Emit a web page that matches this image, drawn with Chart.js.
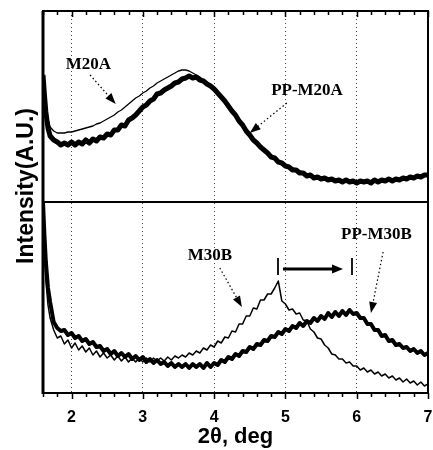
<!DOCTYPE html>
<html>
<head>
<meta charset="utf-8">
<script src="https://cdn.jsdelivr.net/npm/chart.js@4.4.1/dist/chart.umd.min.js"></script>
<style>
  html, body { margin: 0; padding: 0; background: #fff; }
  #wrap { width: 433px; height: 450px; }
</style>
</head>
<body>
<div id="wrap"><canvas id="grafica"></canvas></div>
<script>
// 2theta (deg)
const twoTheta = [1.6, 1.62, 1.64, 1.67, 1.7, 1.75,
  1.8, 1.85, 1.9, 1.95, 2.0, 2.05, 2.1, 2.15, 2.2, 2.25,
  2.3, 2.35, 2.4, 2.45, 2.5, 2.55, 2.6, 2.65, 2.7, 2.75,
  2.8, 2.85, 2.9, 2.95, 3.0, 3.05, 3.1, 3.15, 3.2, 3.25,
  3.3, 3.35, 3.4, 3.45, 3.5, 3.55, 3.6, 3.65, 3.7, 3.75,
  3.8, 3.85, 3.9, 3.95, 4.0, 4.05, 4.1, 4.15, 4.2, 4.25,
  4.3, 4.35, 4.4, 4.45, 4.5, 4.55, 4.6, 4.65, 4.7, 4.75,
  4.8, 4.85, 4.9, 4.95, 5.0, 5.05, 5.1, 5.15, 5.2, 5.25,
  5.3, 5.35, 5.4, 5.45, 5.5, 5.55, 5.6, 5.65, 5.7, 5.75,
  5.8, 5.85, 5.9, 5.95, 6.0, 6.05, 6.1, 6.15, 6.2, 6.25,
  6.3, 6.35, 6.4, 6.45, 6.5, 6.55, 6.6, 6.65, 6.7, 6.75,
  6.8, 6.85, 6.9, 6.95, 7.0];

// upper panel (offset by the panel split)
const intM20A = [321, 303, 289, 274, 266, 262,
  260, 260, 260, 261, 261, 262, 263, 264, 265, 266,
  267, 269, 270, 272, 274, 276, 278, 281, 283, 286,
  289, 292, 295, 297, 300, 302, 305, 307, 310, 312,
  314, 316, 318, 320, 322, 323, 323, 322, 320, 318,
  316, 313, 311, 308, 305, 301, 297, 293, 288, 283,
  279, 274, 269, 264, 259, 255, 251, 247, 244, 241,
  238, 236, 233, 231, 229, 227, 225, 224, 222, 221,
  219, 218, 217, 217, 216, 215, 215, 214, 214, 213,
  213, 213, 213, 212, 212, 212, 212, 212, 212, 212,
  213, 213, 213, 213, 214, 214, 214, 215, 215, 216,
  216, 217, 217, 218, 218];

const intPPM20A = [318, 298, 281, 265, 257, 253,
  251, 248, 250, 248, 251, 248, 251, 249, 253, 250,
  254, 252, 256, 255, 259, 258, 263, 263, 268, 267,
  273, 275, 278, 282, 286, 288, 292, 294, 299, 300,
  303, 305, 307, 310, 311, 314, 315, 317, 315, 316,
  313, 312, 309, 307, 304, 300, 296, 292, 287, 282,
  278, 272, 268, 262, 258, 253, 250, 246, 243, 240,
  236, 235, 231, 230, 227, 226, 223, 223, 220, 220,
  217, 218, 215, 216, 214, 215, 213, 214, 212, 213,
  211, 213, 211, 212, 210, 212, 211, 212, 210, 213,
  211, 213, 212, 214, 212, 214, 213, 215, 214, 216,
  215, 217, 216, 218, 218];

// lower panel
const intM30B = [191, 148, 113, 88, 75, 63,
  55, 57, 49, 53, 45, 50, 43, 47, 41, 45,
  38, 42, 36, 40, 35, 38, 33, 37, 32, 36,
  31, 35, 31, 35, 31, 35, 31, 35, 32, 35,
  32, 36, 33, 37, 35, 38, 36, 40, 38, 42,
  40, 45, 43, 48, 46, 52, 50, 56, 55, 62,
  61, 69, 69, 77, 77, 85, 84, 93, 93, 99,
  99, 105, 112, 92, 89, 83, 84, 79, 80, 73,
  72, 64, 61, 55, 54, 48, 45, 39, 38, 34,
  34, 30, 31, 27, 27, 23, 25, 21, 23, 19,
  21, 17, 19, 15, 17, 13, 15, 11, 14, 10,
  12, 8, 11, 7, 9];

const intPPM30B = [191, 158, 131, 105, 91, 71,
  65, 62, 63, 58, 60, 55, 57, 52, 54, 49,
  51, 46, 47, 42, 44, 39, 42, 37, 40, 36,
  39, 34, 37, 33, 36, 31, 34, 30, 33, 29,
  31, 27, 30, 26, 29, 26, 29, 25, 29, 26,
  29, 25, 30, 26, 30, 28, 33, 31, 36, 34,
  39, 37, 42, 41, 46, 44, 49, 48, 53, 52,
  57, 56, 61, 59, 64, 62, 67, 65, 70, 67,
  72, 70, 75, 72, 77, 74, 80, 76, 81, 77,
  82, 78, 83, 79, 80, 75, 75, 69, 69, 63,
  63, 57, 58, 52, 53, 48, 49, 45, 46, 42,
  44, 40, 42, 38, 40];

const xTickLabels = ['2', '3', '4', '5', '6', '7'];
const panelSplit = 191;
const intMax = 382;

// text labels with their dotted pointer
const notas = [
  { texto: 'M20A', x: 1.92, y: 328, desde: [2.26, 318], hasta: [2.62, 289] },
  { texto: 'PP-M20A', x: 4.80, y: 302, desde: [5.02, 290], hasta: [4.50, 260] },
  { texto: 'M30B', x: 3.63, y: 137, desde: [4.08, 125], hasta: [4.39, 86] },
  { texto: 'PP-M30B', x: 5.78, y: 158, desde: [6.37, 141], hasta: [6.20, 80] }
];
// peak shift marks and arrow
const marcas = [4.896, 5.934];
const flecha = { desde: 4.966, hasta: 5.808, y: 124 };

function puntos(arr) {
  return twoTheta.map((x, i) => ({ x: x, y: arr[i] }));
}

function esEntero(v) {
  return Math.abs(v - Math.round(v)) < 1e-6;
}

function punta(ctx, x0, y0, x1, y1, largo, ancho) {
  const ang = Math.atan2(y1 - y0, x1 - x0);
  const c = Math.cos(ang), s = Math.sin(ang);
  ctx.beginPath();
  ctx.moveTo(x1, y1);
  ctx.lineTo(x1 - largo * c + ancho * s, y1 - largo * s - ancho * c);
  ctx.lineTo(x1 - largo * c - ancho * s, y1 - largo * s + ancho * c);
  ctx.closePath();
  ctx.fill();
}

const decor = {
  id: 'decor',
  afterDatasetsDraw(chart) {
    const { ctx, chartArea: a, scales: { x, y } } = chart;
    ctx.save();
    ctx.strokeStyle = '#000';
    ctx.fillStyle = '#000';

    // panel divider
    const yd = y.getPixelForValue(panelSplit);
    ctx.lineWidth = 2;
    ctx.beginPath();
    ctx.moveTo(a.left, yd);
    ctx.lineTo(a.right, yd);
    ctx.stroke();

    // frame
    ctx.strokeRect(a.left, a.top, a.right - a.left, a.bottom - a.top);
    ctx.lineWidth = 3;
    ctx.beginPath();
    ctx.moveTo(a.left, a.top);
    ctx.lineTo(a.left, a.bottom + 1);
    ctx.stroke();

    // tick marks top (in) and bottom (out)
    ctx.lineWidth = 1.5;
    x.ticks.forEach(t => {
      const px = Math.round(x.getPixelForValue(t.value)) + 0.5;
      const largo = esEntero(t.value) ? 6 : 4;
      ctx.beginPath();
      ctx.moveTo(px, a.bottom);
      ctx.lineTo(px, a.bottom + largo);
      ctx.moveTo(px, a.top);
      ctx.lineTo(px, a.top + largo);
      ctx.stroke();
    });

    // labels
    ctx.font = 'bold 17px "Liberation Serif", serif';
    ctx.textAlign = 'left';
    ctx.textBaseline = 'middle';
    notas.forEach(n => {
      ctx.fillText(n.texto, x.getPixelForValue(n.x), y.getPixelForValue(n.y));
      const x0 = x.getPixelForValue(n.desde[0]), y0 = y.getPixelForValue(n.desde[1]);
      const x1 = x.getPixelForValue(n.hasta[0]), y1 = y.getPixelForValue(n.hasta[1]);
      const ang = Math.atan2(y1 - y0, x1 - x0);
      ctx.lineWidth = 1.2;
      ctx.setLineDash([1.5, 2.5]);
      ctx.beginPath();
      ctx.moveTo(x0, y0);
      ctx.lineTo(x1 - 8 * Math.cos(ang), y1 - 8 * Math.sin(ang));
      ctx.stroke();
      ctx.setLineDash([]);
      punta(ctx, x0, y0, x1, y1, 11, 4);
    });

    // shift marks
    ctx.lineWidth = 1.8;
    marcas.forEach(m => {
      const px = x.getPixelForValue(m);
      ctx.beginPath();
      ctx.moveTo(px, y.getPixelForValue(flecha.y + 11));
      ctx.lineTo(px, y.getPixelForValue(flecha.y - 6));
      ctx.stroke();
    });
    const fx0 = x.getPixelForValue(flecha.desde);
    const fx1 = x.getPixelForValue(flecha.hasta);
    const fy = y.getPixelForValue(flecha.y);
    ctx.lineWidth = 3;
    ctx.beginPath();
    ctx.moveTo(fx0, fy);
    ctx.lineTo(fx1 - 8, fy);
    ctx.stroke();
    punta(ctx, fx0, fy, fx1, fy, 11, 4.5);

    ctx.restore();
  },
  afterDraw(chart) {
    const { ctx } = chart;
    ctx.save();
    ctx.translate(33, 186);
    ctx.rotate(-Math.PI / 2);
    ctx.font = 'bold 23px "Liberation Sans", Arial, sans-serif';
    ctx.fillStyle = '#000';
    ctx.textAlign = 'center';
    ctx.textBaseline = 'alphabetic';
    ctx.fillText('Intensity(A.U.)', 0, 0);
    ctx.restore();
  }
};

const ctx = document.getElementById('grafica').getContext('2d');

const chart = new Chart(ctx, {
  type: 'line',
  data: {
    datasets: [
      { label: 'PP-M20A', data: puntos(intPPM20A), borderColor: '#000', borderWidth: 5 },
      { label: 'M20A', data: puntos(intM20A), borderColor: '#000', borderWidth: 1.3 },
      { label: 'PP-M30B', data: puntos(intPPM30B), borderColor: '#000', borderWidth: 4 },
      { label: 'M30B', data: puntos(intM30B), borderColor: '#000', borderWidth: 1.5 }
    ]
  },
  options: {
    responsive: true,
    maintainAspectRatio: false,
    animation: false,
    layout: { padding: { top: 11, right: 5, left: 0, bottom: 0 } },
    elements: {
      point: { radius: 0 },
      line: { tension: 0, fill: false, borderJoinStyle: 'round' }
    },
    plugins: {
      legend: { display: false },
      tooltip: { enabled: false }
    },
    scales: {
      x: {
        type: 'linear',
        min: 1.6,
        max: 7,
        afterFit: s => {
          s.height = 57;
          s.paddingLeft = 0;
          s.paddingRight = 0;
        },
        ticks: {
          stepSize: 0.2,
          maxTicksLimit: 100,
          autoSkip: false,
          maxRotation: 0,
          padding: 15,
          color: '#000',
          font: { family: '"Liberation Sans", Arial, sans-serif', weight: 'bold', size: 16 },
          callback: v => (esEntero(v) && xTickLabels.includes(String(Math.round(v)))) ? String(Math.round(v)) : ''
        },
        grid: {
          drawTicks: false,
          lineWidth: 1,
          color: c => (c.tick && esEntero(c.tick.value) && c.tick.value > 1.9 && c.tick.value < 6.5) ? '#444' : 'rgba(0,0,0,0)'
        },
        border: { display: false, dash: [1, 3] },
        title: {
          display: true,
          text: '2θ, deg',
          color: '#000',
          padding: { top: 0, bottom: 0 },
          font: { family: '"Liberation Sans", Arial, sans-serif', weight: 'bold', size: 22 }
        }
      },
      y: {
        min: 0,
        max: intMax,
        afterFit: s => { s.width = 43; },
        ticks: { display: false },
        grid: { display: false },
        border: { display: false }
      }
    }
  },
  plugins: [decor]
});
</script>
</body>
</html>
